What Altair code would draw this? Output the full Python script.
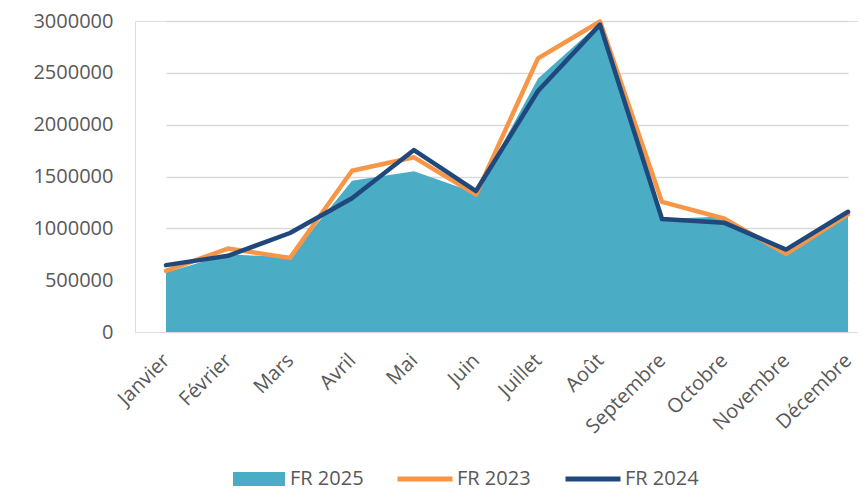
import altair as alt
import pandas as pd

months = ["Janvier", "Février", "Mars", "Avril", "Mai", "Juin", "Juillet",
          "Août", "Septembre", "Octobre", "Novembre", "Décembre"]
fr2025 = [575000, 750000, 720000, 1460000, 1550000, 1340000, 2445000,
          2980000, 1090000, 1115000, 760000, 1135000]
fr2023 = [590000, 805000, 715000, 1555000, 1685000, 1325000, 2640000,
          2995000, 1255000, 1095000, 755000, 1135000]
fr2024 = [645000, 735000, 955000, 1290000, 1755000, 1360000, 2325000,
          2965000, 1090000, 1055000, 795000, 1160000]

rows = []
for name, vals in [("FR 2025", fr2025), ("FR 2023", fr2023), ("FR 2024", fr2024)]:
    for i, (m, v) in enumerate(zip(months, vals)):
        rows.append({"month": m, "order": i, "series": name, "value": v})
df = pd.DataFrame(rows)

FONT = "Open Sans"
GREY = "#595959"

x_enc = alt.X("month:O", sort=months, title=None,
              scale=alt.Scale(type="point", range=[31, 713], padding=0),
              axis=alt.Axis(labelAngle=-45, labelAlign="right", labelBaseline="middle",
                            labelPadding=25, ticks=False, domain=False, grid=False,
                            labelFontSize=20, labelFont=FONT, labelColor=GREY,
                            labelOverlap=False))
y_enc = alt.Y("value:Q", title=None,
              scale=alt.Scale(domain=[0, 3000000], nice=False),
              axis=alt.Axis(values=[0, 500000, 1000000, 1500000, 2000000, 2500000, 3000000],
                            format="d", ticks=False, domain=False,
                            gridColor="#d9d9d9", gridWidth=1.3,
                            labelFontSize=20, labelFont=FONT, labelColor=GREY,
                            labelPadding=22, minExtent=127, maxExtent=127))

base = alt.Chart(df)

area = base.transform_filter(alt.datum.series == "FR 2025").mark_area(opacity=1).encode(
    x=x_enc, y=y_enc,
    fill=alt.Fill("series:N",
                  scale=alt.Scale(domain=["FR 2025"], range=["#4BACC6"]),
                  legend=alt.Legend(title=None, orient="none", legendX=98, legendY=432,
                                    symbolType="M-1,-0.27L1,-0.27L1,0.27L-1,0.27Z",
                                    symbolSize=2704, symbolStrokeWidth=0, symbolOpacity=1,
                                    labelFontSize=20, labelFont=FONT, labelColor=GREY,
                                    labelOffset=5, padding=0)),
)

lines = base.transform_filter(alt.datum.series != "FR 2025").mark_line(
    strokeWidth=4.5, strokeCap="round", strokeJoin="round"
).encode(
    x=x_enc, y=y_enc,
    stroke=alt.Stroke("series:N",
                      scale=alt.Scale(domain=["FR 2023", "FR 2024"], range=["#F79646", "#1F497D"]),
                      legend=alt.Legend(title=None, orient="none", legendX=260, legendY=428,
                                        direction="horizontal", symbolType="stroke",
                                        symbolSize=3025, symbolStrokeWidth=5,
                                        labelFontSize=20, labelFont=FONT, labelColor=GREY,
                                        labelOffset=2, columnPadding=24, padding=0)),
    order="order:Q",
)

chart = alt.layer(area, lines).properties(
    width=723, height=311,
    autosize=alt.AutoSizeParams(type="none"),
    padding={"left": 127, "top": 13, "right": 0, "bottom": 158},
).configure_view(stroke="transparent", strokeWidth=0).configure(background="white")

chart.save("out.html", embed_options={"renderer": "svg", "actions": False})
